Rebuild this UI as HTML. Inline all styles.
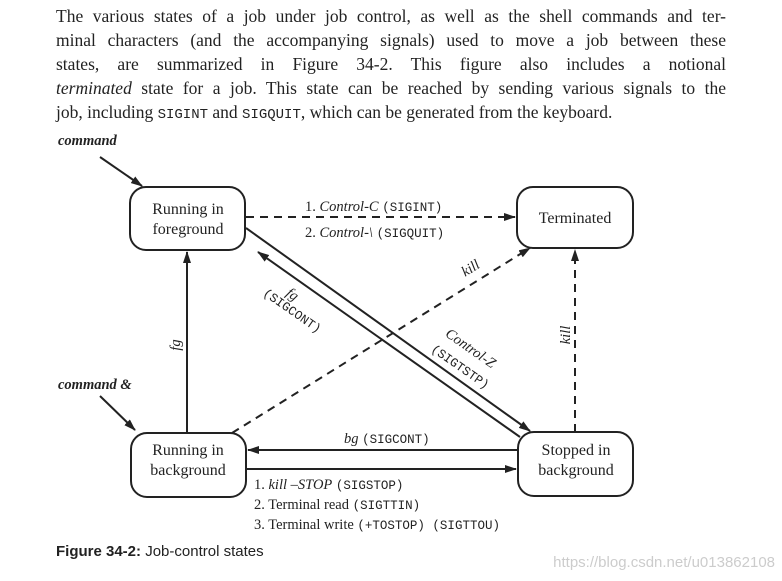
<!DOCTYPE html>
<html><head><meta charset="utf-8"><style>
body{margin:0;width:782px;height:581px;background:#fff;overflow:hidden;position:relative}
.p{position:absolute;left:56px;width:670px;font-family:"Liberation Serif",serif;font-size:17.5px;line-height:24px;color:#222;text-align:justify;text-align-last:justify;white-space:nowrap}
.m{font-family:"Liberation Mono",monospace;font-size:14px}
</style></head><body>
<div class="p" style="top:4px">The various states of a job under job control, as well as the shell commands and ter-</div>
<div class="p" style="top:28px">minal characters (and the accompanying signals) used to move a job between these</div>
<div class="p" style="top:52px">states, are summarized in Figure 34-2. This figure also includes a notional</div>
<div class="p" style="top:76px"><i>terminated</i> state for a job. This state can be reached by sending various signals to the</div>
<div class="p" style="top:100px;text-align-last:left">job, including <span class="m">SIGINT</span> and <span class="m">SIGQUIT</span>, which can be generated from the keyboard.</div>
<svg width="782" height="581" style="position:absolute;left:0;top:0" font-family="Liberation Serif, serif" fill="#222">
<defs><marker id="a" markerWidth="12" markerHeight="8" refX="11" refY="4" orient="auto" markerUnits="userSpaceOnUse"><path d="M0,0 L12,4 L0,8z" fill="#222"/></marker></defs>
<g stroke="#222" stroke-width="2" fill="none">
<rect x="130" y="187" width="115" height="63" rx="16"/>
<rect x="517" y="187" width="116" height="61" rx="16"/>
<rect x="131" y="433" width="115" height="64" rx="16"/>
<rect x="518" y="432" width="115" height="64" rx="16"/>
<line x1="100" y1="157" x2="142" y2="186" marker-end="url(#a)"/>
<line x1="100" y1="396" x2="135" y2="430" marker-end="url(#a)"/>
<line x1="246" y1="217" x2="515" y2="217" stroke-dasharray="8,6" marker-end="url(#a)"/>
<line x1="187" y1="433" x2="187" y2="252" marker-end="url(#a)"/>
<line x1="246" y1="228" x2="530" y2="431" marker-end="url(#a)"/>
<line x1="520" y1="437" x2="258" y2="252" marker-end="url(#a)"/>
<line x1="232" y1="433" x2="530" y2="248" stroke-dasharray="8,6" marker-end="url(#a)"/>
<line x1="575" y1="432" x2="575" y2="250" stroke-dasharray="8,6" marker-end="url(#a)"/>
<line x1="517" y1="450" x2="248" y2="450" marker-end="url(#a)"/>
<line x1="246" y1="469" x2="516" y2="469" marker-end="url(#a)"/>
</g>
<g font-size="16" text-anchor="middle">
<text x="188" y="214">Running in</text><text x="188" y="234">foreground</text>
<text x="575" y="223">Terminated</text>
<text x="188" y="455">Running in</text><text x="188" y="475">background</text>
<text x="576" y="455">Stopped in</text><text x="576" y="475">background</text>
</g>
<g font-size="14.5">
<text x="58" y="145" font-weight="bold" font-style="italic">command</text>
<text x="58" y="389" font-weight="bold" font-style="italic">command &amp;</text>
<text x="305" y="211">1. <tspan font-style="italic">Control-C</tspan> <tspan font-family="Liberation Mono,monospace" font-size="12.5">(SIGINT)</tspan></text>
<text x="305" y="237">2. <tspan font-style="italic">Control-\</tspan> <tspan font-family="Liberation Mono,monospace" font-size="12.5">(SIGQUIT)</tspan></text>
<text x="344" y="443"><tspan font-style="italic">bg</tspan> <tspan font-family="Liberation Mono,monospace" font-size="12.5">(SIGCONT)</tspan></text>
<text x="254" y="489">1. <tspan font-style="italic">kill –STOP</tspan> <tspan font-family="Liberation Mono,monospace" font-size="12.5">(SIGSTOP)</tspan></text>
<text x="254" y="509">2. Terminal read <tspan font-family="Liberation Mono,monospace" font-size="12.5">(SIGTTIN)</tspan></text>
<text x="254" y="529">3. Terminal write <tspan font-family="Liberation Mono,monospace" font-size="12.5">(+TOSTOP) (SIGTTOU)</tspan></text>
<text transform="translate(180,345) rotate(-90)" font-style="italic" text-anchor="middle">fg</text>
<text transform="translate(570,335) rotate(-90)" font-style="italic" text-anchor="middle">kill</text>
<text transform="translate(473,272) rotate(-32)" font-style="italic" text-anchor="middle">kill</text>
<text transform="translate(290,298) rotate(35)" font-style="italic" text-anchor="middle">fg</text>
<text transform="translate(290,314) rotate(35)" text-anchor="middle" font-family="Liberation Mono,monospace" font-size="12.5">(SIGCONT)</text>
<text transform="translate(468,352) rotate(35)" font-style="italic" text-anchor="middle">Control-Z</text>
<text transform="translate(458,370) rotate(35)" text-anchor="middle" font-family="Liberation Mono,monospace" font-size="12.5">(SIGTSTP)</text>
</g>
<text x="56" y="556" font-family="Liberation Sans, sans-serif" font-size="15"><tspan font-weight="bold">Figure 34-2:</tspan> Job-control states</text>
<text x="775" y="567" text-anchor="end" font-family="Liberation Sans, sans-serif" font-size="15" fill="#ccc">https://blog.csdn.net/u013862108</text>
</svg>
</body></html>
